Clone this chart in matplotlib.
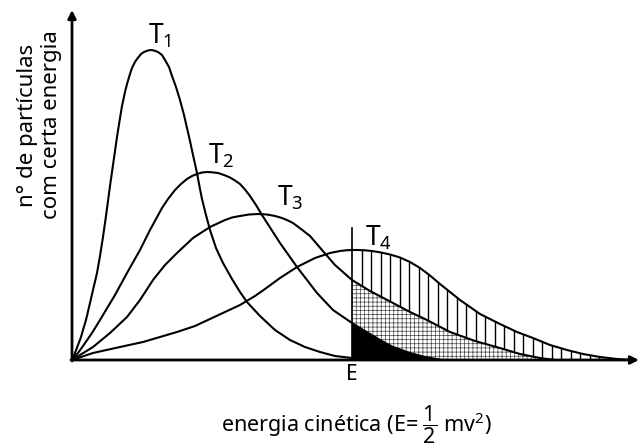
import numpy as np
import matplotlib
matplotlib.use("Agg")
import matplotlib.pyplot as plt

plt.rcParams['font.family'] = ['Noto Sans', 'DejaVu Sans']
plt.rcParams['mathtext.fontset'] = 'custom'
plt.rcParams['mathtext.rm'] = 'Noto Sans'
plt.rcParams['mathtext.it'] = 'Noto Sans:italic'
plt.rcParams['mathtext.bf'] = 'Noto Sans:bold'
plt.rcParams['hatch.linewidth'] = 0.5

# curves (energia, nº de partículas)
T1_x = np.array([0, 3, 6, 9, 11, 14, 18, 21, 25, 28, 31, 34, 36, 38, 41, 43, 45, 48, 50, 53,
                 55, 58, 60, 63, 65, 69, 72, 76, 79, 82, 86, 90, 93, 97, 100, 104, 108, 112, 115, 118,
                 121, 125, 128, 130, 134, 138, 144, 151, 160, 168, 175, 188, 203, 218, 233, 248, 263, 280, 303])
T1_y = np.array([0, 7, 15, 23, 30, 40, 57, 70, 87, 104, 123, 144, 159, 174, 195, 209, 223, 242, 254, 268,
                 276, 286, 292, 298, 301, 306, 308, 309.5, 310, 309.5, 308, 305, 300, 293, 284, 273, 260, 245, 232, 219,
                 205, 187, 171, 161, 145, 130, 112, 97, 81, 68, 58, 44, 30, 20, 13, 8, 4, 2, 0])

T2_x = np.array([0, 6, 11, 20, 28, 43, 55, 68, 78, 90, 96, 103, 109, 115, 120, 125, 130, 135, 140, 146,
                 152, 158, 163, 168, 173, 178, 184, 190, 199, 208, 225, 245, 261, 280, 293, 308, 321, 338, 353, 370])
T2_y = np.array([0, 7, 14, 27, 40, 65, 87, 110, 130, 152, 161, 170, 176, 181, 184, 186, 187.5, 188, 187.7, 187,
                 185, 182.5, 179.5, 176, 170.5, 164, 155, 145, 131, 117, 93, 67, 50, 37, 29, 20, 13, 7, 3, 0])

T3_x = np.array([0, 8, 21, 38, 55, 68, 81, 93, 105, 121, 138, 153, 160, 168, 177, 186, 195, 203, 210, 216,
                 221, 225, 231, 238, 250, 263, 280, 298, 321, 338, 355, 378, 403, 428, 448, 468, 483])
T3_y = np.array([0, 5, 13, 27, 43, 60, 80, 95, 107, 122, 133, 140, 142.5, 144, 145.5, 146, 145.5, 144, 142, 139.5,
                 137, 134, 129.5, 124, 110, 95, 80, 69, 57, 48, 40, 28, 19, 12, 6, 2, 0])

T4_x = np.array([0, 21, 48, 71, 88, 105, 123, 138, 153, 168, 183, 193, 208, 225, 243, 258, 263, 268, 274, 280,
                 286, 293, 300, 308, 318, 328, 338, 348, 358, 368, 388, 408, 428, 445, 461, 478, 495, 511, 528, 545, 560])
T4_y = np.array([0, 7, 13, 18, 23, 28, 34, 41, 48, 55, 64, 71, 82, 93, 102, 107, 108, 109, 109.7, 110,
                 110, 109.7, 109, 107.7, 105.5, 102.5, 98, 92, 84.5, 76, 60, 46, 36, 28, 22, 15, 10, 6, 3, 1, 0])

E = 280
E_top = 132
labels = ['T$_1$', 'T$_2$', 'T$_3$', 'T$_4$']
label_pos = [(76, 317), (136, 197), (205, 155), (293, 115)]

fig = plt.figure(figsize=(6.4, 4.47), dpi=100)
ax = fig.add_axes([0, 0, 1, 1])
ax.set_xlim(-72, 568)
ax.set_ylim(-87, 360)
ax.axis('off')

# black region under T2 beyond E
m2 = T2_x >= E
ax.fill(np.r_[T2_x[m2], E], np.r_[T2_y[m2], 0], color='black', lw=0, zorder=2)

# crosshatch between T2 and T3
m3 = T3_x >= E
ax.fill(np.r_[T3_x[m3], T2_x[m2][::-1]], np.r_[T3_y[m3], T2_y[m2][::-1]],
        facecolor='white', edgecolor='#444444', hatch='++++', lw=0, zorder=1)

# vertical lines between T3 and T4
vx = np.arange(E + 9.5, T4_x[-1], 9.5)
ax.vlines(vx, np.interp(vx, T3_x, T3_y, right=0), np.interp(vx, T4_x, T4_y),
          color='black', lw=1.0, zorder=2)

for cx, cy in [(T1_x, T1_y), (T2_x, T2_y), (T3_x, T3_y), (T4_x, T4_y)]:
    ax.plot(cx, cy, color='black', lw=1.5, solid_joinstyle='round', zorder=3)

ax.plot([E, E], [0, E_top], color='black', lw=1.2, zorder=3)

for lab, (lx, ly) in zip(labels, label_pos):
    ax.text(lx, ly, lab, fontsize=19, ha='left', va='baseline')

# axes with arrows
arrow = dict(arrowstyle='-|>', lw=2, color='black', mutation_scale=12, shrinkA=0, shrinkB=0)
ax.annotate('', xy=(0, 350), xytext=(0, -1), arrowprops=arrow, zorder=4)
ax.annotate('', xy=(567, 0), xytext=(-1, 0), arrowprops=arrow, zorder=4)

ax.text(E, -14, 'E', fontsize=15, ha='center', va='center')
ax.text(284, -72, r'energia cinética (E= $\dfrac{1}{2}$ mv$^2$)', fontsize=15.5,
        ha='center', va='baseline')
ax.text(-39, 235, 'n° de partículas', fontsize=16, rotation=90, rotation_mode='anchor',
        ha='center', va='baseline')
ax.text(-15, 235, 'com certa energia', fontsize=16, rotation=90, rotation_mode='anchor',
        ha='center', va='baseline')

fig.savefig('out.png', dpi=100)
